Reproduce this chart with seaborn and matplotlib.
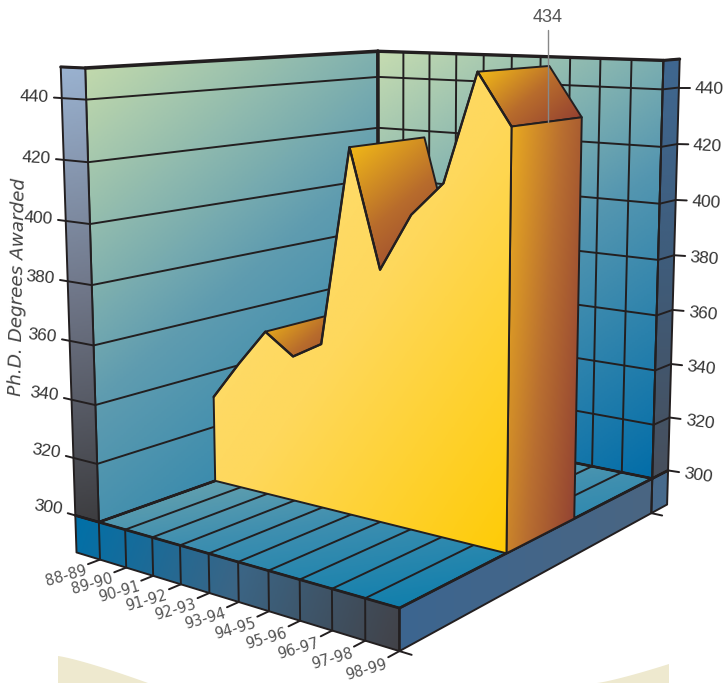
import numpy as np
import matplotlib
matplotlib.use('Agg')
import matplotlib.pyplot as plt
from matplotlib.patches import Polygon
import seaborn as sns

# Chart data
years = ['88-89', '89-90', '90-91', '91-92', '92-93', '93-94', '94-95', '95-96', '96-97', '97-98', '98-99']
phds = [331, 345, 358, 351, 357, 424, 385, 404, 415, 450, 434]
value_ticks = [300, 320, 340, 360, 380, 400, 420, 440]
y_label = 'Ph.D. Degrees Awarded'

# Box layout in chart units
Y_MIN, Y_MAX, Y_BASE = 300, 450, 287
STRIP_L, STRIP_R = 0.092, 0.08
Z_FRONT, Z_BACK = 0.368, 0.64

INK = '#231f20'
LABEL_FONT = 'Liberation Sans'

# Where known box points land on the page, used to fit a perspective camera
world_pts = [(0, 300, 0), (1, 300, 0), (1, 300, 1), (0, 450, 0), (0, 440, 0), (0, 400, 0), (0, 320, 0),
             (0, 450, 1), (0, 440, 1), (0, 420, 1), (1, 450, 1), (1, 440, 1), (1, 400, 1),
             (.5, 300, 0), (.5, 450, 1), (.2, 300, 0), (.8, 300, 0)]
page_pts = [(99, 522), (400, 608), (652, 479), (85, 68), (86, 100), (90, 224), (97, 464),
            (378, 51), (378, 77), (378, 128), (663, 61), (663, 89), (659.5, 203),
            (238, 562), (512, 55.5), (152, 537), (332, 589)]


def fit_camera(world, page):
    rows = []
    for (x, y, z), (u, v) in zip(world, page):
        p = [x, (y - 300) / 150, z, 1]
        rows.append(p + [0, 0, 0, 0] + [-u * c for c in p])
        rows.append([0, 0, 0, 0] + p + [-v * c for c in p])
    return np.linalg.svd(np.array(rows))[2][-1].reshape(3, 4)


CAM = fit_camera(world_pts, page_pts)


def proj(x, y, z):
    h = CAM @ np.array([x, (y - 300) / 150, z, 1.0])
    return h[0] / h[2], h[1] / h[2]


def shade(ax, corners, stops, angle, z):
    # linear gradient clipped to a polygon
    poly = np.array([proj(*c) for c in corners])
    x0, y0 = poly.min(axis=0)
    x1, y1 = poly.max(axis=0)
    xx, yy = np.meshgrid(np.linspace(x0, x1, 200), np.linspace(y0, y1, 200))
    a = np.deg2rad(angle)
    t = xx * np.cos(a) + yy * np.sin(a)
    t = (t - t.min()) / (t.max() - t.min())
    cmap = sns.blend_palette(stops, as_cmap=True)
    im = ax.imshow(t, cmap=cmap, vmin=0, vmax=1, extent=[x0, x1, y1, y0], aspect='auto', zorder=z)
    im.set_clip_path(Polygon(poly, transform=ax.transData))
    ax.add_patch(Polygon(poly, fill=False, ec=INK, lw=1.4, joinstyle='round', zorder=z + 0.1))


def seg(ax, a, b, lw=1.4, z=3, color=INK):
    pa, pb = proj(*a), proj(*b)
    ax.plot([pa[0], pb[0]], [pa[1], pb[1]], color=color, lw=lw, solid_capstyle='round', zorder=z)


sns.set_theme(style='white')
fig = plt.figure(figsize=(7.25, 6.83), dpi=100)
ax = fig.add_axes([0, 0, 1, 1])

# Pale backdrop peeking out at the bottom
cream_x = np.linspace(58, 148, 30)
ax.fill(np.r_[cream_x, 58], np.r_[656 + 27 * ((cream_x - 58) / 90) ** 1.2, 683], color='#eee9cf', lw=0, zorder=0)
cream_x = np.linspace(597, 669, 30)
ax.fill(np.r_[cream_x, 669], np.r_[683 - 19 * ((cream_x - 597) / 72) ** 1.2, 683], color='#eee9cf', lw=0, zorder=0)

# Walls and floor
shade(ax, [(0, Y_MIN, 0), (0, Y_MAX, 0), (0, Y_MAX, 1), (0, Y_MIN, 1)], ['#c6dcac', '#5f9cb0', '#1a7caa'], 50, 1)
shade(ax, [(0, Y_MIN, 1), (0, Y_MAX, 1), (1, Y_MAX, 1), (1, Y_MIN, 1)], ['#c6dcb0', '#5496b0', '#006ca8'], 55, 1)
shade(ax, [(0, Y_MIN, 0), (0, Y_MIN, 1), (1, Y_MIN, 1), (1, Y_MIN, 0)], ['#8fb5ac', '#3f8fb0', '#0079ab'], 82, 1)

# Outer strips and the base
shade(ax, [(-STRIP_L, Y_MIN, 0), (-STRIP_L, Y_MAX, 0), (0, Y_MAX, 0), (0, Y_MIN, 0)], ['#9ab2d0', '#6f7688', '#3d3d40'], 78, 2)
shade(ax, [(1, Y_MIN, 1), (1, Y_MAX, 1), (1, Y_MAX, 1 + STRIP_R), (1, Y_MIN, 1 + STRIP_R)], ['#3f6790', '#3f5c7a', '#474f5c'], 88, 2)
shade(ax, [(-STRIP_L, Y_BASE, 0), (-STRIP_L, Y_MIN, 0), (1, Y_MIN, 0), (1, Y_BASE, 0)], ['#0070a8', '#3b6585', '#424248'], 20, 2)
shade(ax, [(1, Y_BASE, 0), (1, Y_MIN, 0), (1, Y_MIN, 1), (1, Y_BASE, 1)], ['#3c6690', '#4a6582'], 0, 2)
shade(ax, [(1, Y_BASE, 1), (1, Y_MIN, 1), (1, Y_MIN, 1 + STRIP_R), (1, Y_BASE, 1 + STRIP_R)], ['#476a8c', '#476a8c'], 0, 2)

# Value grid on both walls, ticks and labels
for v in value_ticks:
    seg(ax, (0, v, 0), (0, v, 1))
    seg(ax, (0, v, 1), (1, v, 1))
    seg(ax, (-STRIP_L - 0.03, v, 0), (0, v, 0))
    seg(ax, (1, v, 1), (1, v, 1 + STRIP_R))
    rs = proj(1, v, 1 + STRIP_R)
    ax.plot([rs[0], rs[0] + 11], [rs[1], rs[1] + (440 - v) * 0.012], color=INK, lw=1.4, zorder=3)
    rot = -2 - (440 - v) * 0.045
    lx, ly = proj(-STRIP_L - 0.03, v, 0)
    ax.text(lx - 5, ly - (440 - v) * 0.025, str(v), ha='right', va='center', rotation=rot, rotation_mode='anchor',
            fontsize=12.5, family=LABEL_FONT, color='#333333', zorder=6)
    ax.text(rs[0] + 16, rs[1] + 1 + (440 - v) * 0.015, str(v), ha='left', va='center', rotation=rot,
            rotation_mode='anchor', fontsize=12.5, family=LABEL_FONT, color='#333333', zorder=6)

# Category grid on floor, back wall and base
for k, name in enumerate(years):
    x = k / (len(years) - 1)
    seg(ax, (x, Y_MIN, 0), (x, Y_MIN, 1), lw=1.4)
    seg(ax, (x, Y_MIN, 1), (x, Y_MAX, 1), lw=1.4)
    seg(ax, (x, Y_BASE, 0), (x, Y_MIN, 0), lw=1.4)
    seg(ax, (x, Y_BASE, 0), (x, Y_BASE, -0.035), lw=1.4)
    tx, ty = proj(x, Y_BASE, -0.055)
    ax.text(tx + 5, ty + 3, name, ha='right', va='center', rotation=16, rotation_mode='anchor',
            fontsize=10.5, family='DejaVu Sans', color='#555555', zorder=6)
seg(ax, (1, Y_BASE, 0), (1.035, Y_BASE, 0), lw=1.4)
seg(ax, (1, Y_BASE, 1), (1.035, Y_BASE, 1), lw=1.4)

# Heavier box edges
seg(ax, (-STRIP_L, Y_MAX, 0), (0, Y_MAX, 0), lw=2.2)
seg(ax, (0, Y_MAX, 0), (0, Y_MAX, 1), lw=2.6)
seg(ax, (0, Y_MAX, 1), (1, Y_MAX, 1), lw=2.4)
seg(ax, (1, Y_MAX, 1), (1, Y_MAX, 1 + STRIP_R), lw=2.2)
seg(ax, (0, Y_MIN, 1), (0, Y_MAX, 1), lw=2.6)
seg(ax, (0, Y_MIN, 0), (0, Y_MIN, 1), lw=2)
seg(ax, (0, Y_MIN, 1), (1, Y_MIN, 1), lw=2)
seg(ax, (-STRIP_L, Y_MIN, 0), (1, Y_MIN, 0), lw=2)
seg(ax, (1, Y_MIN, 0), (1, Y_MIN, 1), lw=2)
seg(ax, (1, Y_MIN, 1), (1, Y_MIN, 1 + STRIP_R), lw=2)

# Area: only the falling top facets face the viewer, then end face and front face
xs = np.linspace(0, 1, len(years))
for k in range(len(xs) - 1):
    if phds[k + 1] < phds[k]:
        shade(ax, [(xs[k], phds[k], Z_FRONT), (xs[k], phds[k], Z_BACK), (xs[k + 1], phds[k + 1], Z_BACK),
                   (xs[k + 1], phds[k + 1], Z_FRONT)], ['#f6bf16', '#b86c2c', '#8e3a32'], 50, 4)
shade(ax, [(1, Y_MIN, Z_FRONT), (1, phds[-1], Z_FRONT), (1, phds[-1], Z_BACK), (1, Y_MIN, Z_BACK)],
      ['#efb11f', '#b96f30', '#8b3a33'], 5, 4.5)
front = [(xs[0], Y_MIN, Z_FRONT)] + [(a, b, Z_FRONT) for a, b in zip(xs, phds)] + [(xs[-1], Y_MIN, Z_FRONT)]
shade(ax, front, ['#fee07c', '#fed85c', '#ffcb05'], 35, 5)
profile = np.array([proj(*p) for p in front[1:-1]])
sns.lineplot(x=profile[:, 0], y=profile[:, 1], sort=False, estimator=None, color=INK, lw=1.7, ax=ax, zorder=5.3)

# Last value callout
lead = proj(1, phds[-1], (Z_FRONT + Z_BACK) / 2)
ax.plot([lead[0], lead[0]], [30, lead[1]], color='#888888', lw=1, zorder=6)
ax.text(lead[0], 17, str(phds[-1]), ha='center', va='center', fontsize=13, family=LABEL_FONT, color='#555555', zorder=6)

ax.text(18, 287, y_label, rotation=89, ha='center', va='center', fontsize=13.2, style='italic',
        family='DejaVu Sans', color='#444444', zorder=6)

ax.set_xlim(0, 725)
ax.set_ylim(683, 0)
ax.axis('off')
fig.savefig('out.png', dpi=100)
